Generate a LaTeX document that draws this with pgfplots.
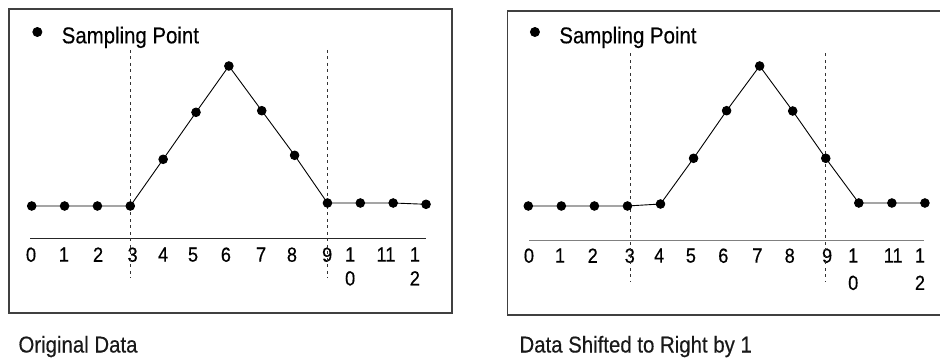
\documentclass[border=0pt]{standalone}
\usepackage{pgfplots}
\pgfplotsset{compat=1.18}
\usepackage{fontspec}
\setmainfont{Liberation Sans}[FakeStretch=0.89, FakeBold=0.4]

\pgfplotsset{
  panel/.style={
    scale only axis, width=443bp, height=304bp, anchor=south west,
    clip=false,
    axis x line=middle, axis y line=none,
    x axis line style={draw=none,-},
    ytick=\empty, major tick length=0pt,
    xticklabel style={inner sep=0pt, align=center, anchor=north,
      font=\fontsize{20.5}{24}\selectfont, text=black},
    after end axis/.code={\draw[black!75,line width=1.3bp] (rel axis cs:0,0) rectangle (rel axis cs:1,1);},
    legend image code/.code={\fill[black] (4.5bp,11.3bp) circle (4.5bp); \path (0bp,0bp) (28.5bp,0bp);},
    legend style={draw=none, fill=none, inner sep=0pt, anchor=north west,
      nodes={inner sep=0pt, text depth=0pt, font=\fontsize{23}{27}\selectfont},
      cells={anchor=base west}, column sep=0pt},
  },
  dataline/.style={black, line width=0.9bp, mark=*, mark size=4.3bp, mark options={fill=black, draw=black}},
  dash/.style={black!80, line width=1bp, dash pattern=on 3bp off 3.5bp, mark=none, forget plot},
}

\begin{document}
\begin{tikzpicture}
\path[use as bounding box] (0,0) rectangle (940bp,358bp);

% ---------- left panel ----------
\begin{axis}[panel, at={(9bp,45bp)},
  xmin=-0.691, xmax=12.79, ymin=-74.7, ymax=229.3,
  xtick={-0.02,0.98,2.02,3.07,4,4.91,5.91,6.98,7.92,8.99,9.69,10.78,11.66},
  xticklabels={0,1,2,3,4,5,6,7,8,9,{1\\0},11,{1\\2}},
  xticklabel style={yshift=-9bp},
  legend style={at={(axis cs:0.015,211.8)}},
]
\addplot[black!85, line width=1.3bp, mark=none, forget plot] coordinates {(-0.05,0) (11.99,0)};
\addplot[dash] coordinates {(3,188.3) (3,-39.7)};
\addplot[dash] coordinates {(9,188.3) (9,-39.7)};
\addplot[dataline] coordinates {
(0,32.3) (1,32.3) (2,32.3) (3,32.3) (4,79) (5,126) (6,172.3)
(7,127.6) (8,83) (9,35.3) (10,35.3) (11,35.3) (12,34)};
\addlegendentry{Sampling Point}
\end{axis}

% ---------- right panel ----------
\begin{axis}[panel, at={(507.7bp,43bp)},
  xmin=-0.623, xmax=12.78, ymin=-74.3, ymax=229.7,
  xtick={0.02,0.96,1.95,3.07,3.96,4.92,5.9,6.93,7.91,9.04,9.83,11.04,11.85},
  xticklabels={0,1,2,3,4,5,6,7,8,9,{1\\0},11,{1\\2}},
  xticklabel style={yshift=-7.6bp, font=\fontsize{20.5}{27.5}\selectfont},
  legend style={at={(axis cs:0.045,214.2)}},
]
\addplot[black!50, line width=1.3bp, mark=none, forget plot] coordinates {(0.03,0) (11.97,0)};
\addplot[dash] coordinates {(3.08,187.4) (3.08,-41)};
\addplot[dash] coordinates {(9,187.4) (9,-41)};
\addplot[dataline] coordinates {
(0,34.7) (1,34.7) (2,34.7) (3,34.7) (4,36.7) (5,82.4) (6,130)
(7,174.7) (8,129.7) (9,82.4) (10,37.7) (11,37.7) (12,37.7)};
\addlegendentry{Sampling Point}
\end{axis}

\node[anchor=base west, inner sep=0pt, font=\fontsize{23}{27}\selectfont, text=black!90] at (18.3bp,5.5bp) {Original Data};
\node[anchor=base west, inner sep=0pt, font=\fontsize{23}{27}\selectfont, text=black!90] at (519.3bp,5.5bp) {Data Shifted to Right by 1};
\end{tikzpicture}
\end{document}
